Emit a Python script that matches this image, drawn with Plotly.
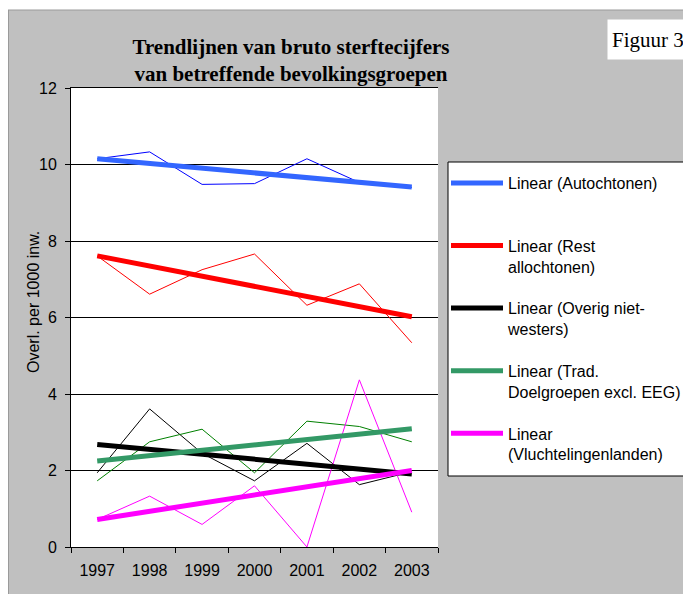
import plotly.graph_objects as go

# --- data ---
years = ["1997", "1998", "1999", "2000", "2001", "2002", "2003"]

autochtonen = [10.15, 10.33, 9.48, 9.50, 10.15, 9.53, 9.40]
rest_allochtonen = [7.61, 6.61, 7.25, 7.66, 6.32, 6.88, 5.34]
overig_niet_westers = [1.94, 3.61, 2.45, 1.73, 2.71, 1.63, 1.97]
trad_doelgroepen = [1.73, 2.75, 3.08, 1.94, 3.29, 3.15, 2.75]
vluchtelingenlanden = [0.72, 1.33, 0.59, 1.60, 0.00, 4.37, 0.91]

# linear trend values at 1997 and 2003
trend_start = [10.15, 7.61, 2.68, 2.25, 0.72]
trend_end = [9.41, 6.02, 1.91, 3.09, 2.00]

series = [autochtonen, rest_allochtonen, overig_niet_westers, trad_doelgroepen, vluchtelingenlanden]
legend_names = [
    "Linear (Autochtonen)<br> ",
    "Linear (Rest<br>allochtonen)",
    "Linear (Overig niet-<br>westers)",
    "Linear (Trad.<br>Doelgroepen excl. EEG)",
    "Linear<br>(Vluchtelingenlanden)",
]
thin_colors = ["#0000FF", "#FF0000", "#000000", "#008000", "#FF00FF"]
trend_colors = ["#3366FF", "#FF0000", "#000000", "#339966", "#FF00FF"]

# the page puts the figure 8px in from the top-left corner of the window
OFF = 8
W, H = 691 - OFF, 594 - OFF
L, R, T, B = 71, 438, 88, 547   # plot area in window pixels


def px(x):
    return (x - L) / (R - L)


def py(y):
    return (B - y) / (B - T)


fig = go.Figure()

# thin data lines
for vals, col, nm in zip(series, thin_colors, legend_names):
    fig.add_trace(go.Scatter(
        x=years, y=vals, mode="lines",
        line=dict(color=col, width=1),
        legendgroup=nm, showlegend=False, hoverinfo="x+y"
    ))

# thick trend lines
for s, e, col, nm in zip(trend_start, trend_end, trend_colors, legend_names):
    fig.add_trace(go.Scatter(
        x=[years[0], years[-1]], y=[s, e], mode="lines",
        line=dict(color=col, width=5),
        name=nm, legendgroup=nm
    ))

font_sans = "Liberation Sans, Arial, sans-serif"
font_serif = "Liberation Serif, Times New Roman, serif"

fig.update_layout(
    width=W, height=H,
    margin=dict(l=L - OFF, r=W - (R - OFF), t=T - OFF, b=H - (B - OFF), pad=0,
                autoexpand=False),
    paper_bgcolor="#C0C0C0",
    plot_bgcolor="white",
    font=dict(family=font_sans, size=16, color="black"),
    title=dict(
        text="<b>Trendlijnen van bruto sterftecijfers<br>van betreffende bevolkingsgroepen</b>",
        font=dict(family=font_serif, size=21, color="black"),
        x=(291 - OFF) / W, xanchor="center",
        y=1 - 46 / H, yanchor="middle",
    ),
    legend=dict(
        x=px(446), y=py(166), xanchor="left", yanchor="top",
        bgcolor="rgba(0,0,0,0)", borderwidth=0,
        font=dict(family=font_sans, size=16, color="black"),
        valign="top", tracegroupgap=18, itemwidth=52,
    ),
    showlegend=True,
)

fig.update_xaxes(
    type="category", range=[-0.5, 6.5],
    showline=True, linecolor="black", linewidth=1, mirror=True,
    ticks="outside", tickson="boundaries", ticklen=5, tickcolor="black",
    showgrid=False, zeroline=False, ticklabelstandoff=9,
)
fig.update_yaxes(
    range=[0, 12], dtick=2,
    showline=True, linecolor="black", linewidth=1,
    ticks="outside", ticklen=5, tickcolor="black",
    showgrid=True, gridcolor="black", gridwidth=1,
    zeroline=False, ticklabelstandoff=5,
)

shapes = [
    # thin white strip and darker edge along the top/left of the grey area
    dict(type="rect", xref="paper", yref="paper", x0=px(OFF), x1=px(691), y0=py(10), y1=py(OFF),
         fillcolor="white", line=dict(width=0), layer="above"),
    dict(type="line", xref="paper", yref="paper", x0=px(OFF), x1=px(691), y0=py(10), y1=py(10),
         line=dict(color="#9A9A9A", width=1), layer="above"),
    dict(type="line", xref="paper", yref="paper", x0=px(OFF + 0.5), x1=px(OFF + 0.5), y0=py(10), y1=py(594),
         line=dict(color="#9A9A9A", width=1), layer="above"),
    # legend box
    dict(type="rect", xref="paper", yref="paper", x0=px(448), x1=px(686), y0=py(476), y1=py(162),
         fillcolor="white", line=dict(color="black", width=1), layer="below"),
]
fig.update_layout(shapes=shapes)

fig.add_annotation(
    text="Overl. per 1000 inw.", textangle=-90,
    xref="paper", yref="paper", x=px(33), y=py(302),
    xanchor="center", yanchor="middle",
    showarrow=False, font=dict(family=font_sans, size=16, color="black"),
)
fig.add_annotation(
    text="Figuur 3",
    xref="paper", yref="paper", x=px(648), y=py(40),
    xanchor="center", yanchor="middle",
    width=72, height=31, valign="middle",
    showarrow=False, bgcolor="white", borderpad=4,
    font=dict(family=font_serif, size=21, color="black"),
)

fig.write_html("out.html")
